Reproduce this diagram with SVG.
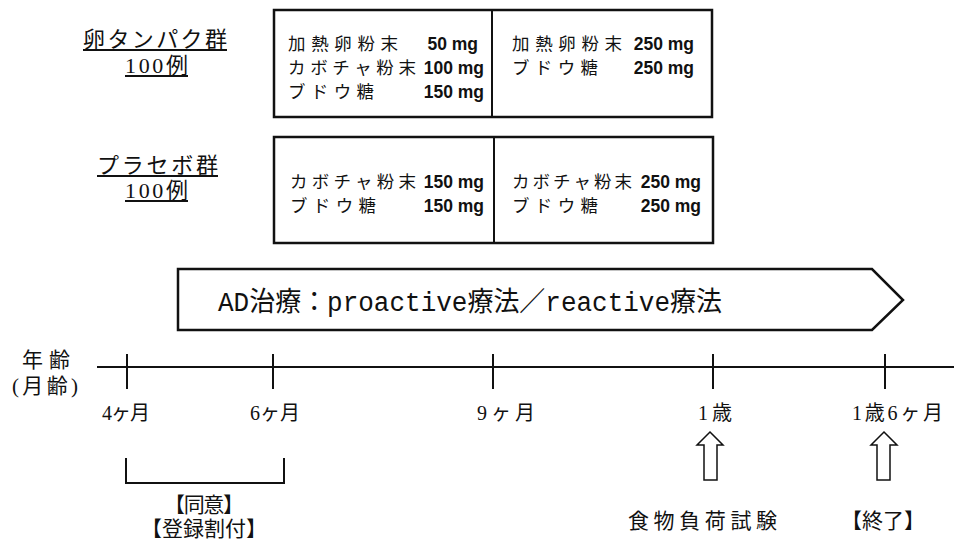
<svg xmlns="http://www.w3.org/2000/svg" width="954" height="542" viewBox="0 0 954 542">
<style>
.jp{font-family:"Liberation Serif","Noto Sans CJK JP",serif;fill:#111;}
.box{fill:#fff;stroke:#111;stroke-width:2.5;}
.ln{stroke:#111;stroke-width:2;fill:none;}
.mg{font-family:"Liberation Sans","Noto Sans CJK JP",sans-serif;font-weight:bold;font-size:17.5px;fill:#111;text-anchor:end;}
.bt{font-family:"Noto Sans CJK JP",sans-serif;font-size:17.5px;fill:#111;}
.lbl{font-size:22px;}
.tk{font-size:20px;}
.big{font-size:21px;}
.arr{fill:#fff;stroke:#111;stroke-width:1.5;}
</style>
<rect width="954" height="542" fill="#fff"/>

<g id="egg-label">
<text class="jp lbl" x="83" y="47" textLength="144" lengthAdjust="spacing">卵タンパク群</text>
<line class="ln" x1="83" y1="50" x2="227" y2="50" stroke-width="1.5"/>
<text class="jp lbl" x="125" y="73" textLength="63" lengthAdjust="spacing">100例</text>
<line class="ln" x1="125" y1="76" x2="188" y2="76" stroke-width="1.5"/>
</g>

<g id="egg-box">
<rect class="box" x="274" y="10" width="438" height="107"/>
<line class="ln" x1="492" y1="10" x2="492" y2="117"/>
<text class="bt" x="288" y="50" textLength="110" lengthAdjust="spacing">加熱卵粉末</text>
<text class="mg" x="478" y="50">50 mg</text>
<text class="bt" x="288" y="74" textLength="128" lengthAdjust="spacing">カボチャ粉末</text>
<text class="mg" x="484" y="74">100 mg</text>
<text class="bt" x="288" y="98" textLength="86" lengthAdjust="spacing">ブドウ糖</text>
<text class="mg" x="484" y="98">150 mg</text>
<text class="bt" x="512" y="50" textLength="110" lengthAdjust="spacing">加熱卵粉末</text>
<text class="mg" x="694" y="50">250 mg</text>
<text class="bt" x="512" y="74" textLength="86" lengthAdjust="spacing">ブドウ糖</text>
<text class="mg" x="694" y="74">250 mg</text>
</g>

<g id="placebo-label">
<text class="jp lbl" x="97" y="173" textLength="121" lengthAdjust="spacing">プラセボ群</text>
<line class="ln" x1="97" y1="176" x2="218" y2="176" stroke-width="1.5"/>
<text class="jp lbl" x="125" y="198" textLength="63" lengthAdjust="spacing">100例</text>
<line class="ln" x1="125" y1="201" x2="188" y2="201" stroke-width="1.5"/>
</g>

<g id="placebo-box">
<rect class="box" x="274" y="137" width="439" height="106"/>
<line class="ln" x1="494" y1="137" x2="494" y2="243"/>
<text class="bt" x="290" y="188" textLength="126" lengthAdjust="spacing">カボチャ粉末</text>
<text class="mg" x="484" y="188">150 mg</text>
<text class="bt" x="290" y="212" textLength="86" lengthAdjust="spacing">ブドウ糖</text>
<text class="mg" x="484" y="212">150 mg</text>
<text class="bt" x="512" y="188" textLength="120" lengthAdjust="spacing">カボチャ粉末</text>
<text class="mg" x="701" y="188">250 mg</text>
<text class="bt" x="512" y="212" textLength="86" lengthAdjust="spacing">ブドウ糖</text>
<text class="mg" x="701" y="212">250 mg</text>
</g>

<g id="ad-treatment">
<polygon class="box" points="178,269 872,269 903,300 872,330 178,330"/>
<text x="218" y="311" font-family="'Liberation Mono','Noto Sans CJK JP',monospace" font-size="27" fill="#111" textLength="504" lengthAdjust="spacingAndGlyphs">AD治療：proactive療法／reactive療法</text>
</g>

<g id="timeline">
<text class="jp" x="22" y="367" font-size="21" textLength="48" lengthAdjust="spacing">年齢</text>
<text class="jp" x="12" y="393" font-size="21" textLength="66" lengthAdjust="spacing">(月齢)</text>
<line class="ln" x1="97" y1="367" x2="954" y2="367"/>
<line class="ln" x1="127" y1="354" x2="127" y2="389"/>
<line class="ln" x1="273" y1="354" x2="273" y2="389"/>
<line class="ln" x1="493" y1="354" x2="493" y2="389"/>
<line class="ln" x1="713" y1="354" x2="713" y2="389"/>
<line class="ln" x1="885" y1="354" x2="885" y2="389"/>
<text class="jp tk" x="102" y="420" textLength="48" lengthAdjust="spacing">4ヶ月</text>
<text class="jp tk" x="250" y="420" textLength="50" lengthAdjust="spacing">6ヶ月</text>
<text class="jp tk" x="477" y="420" textLength="58" lengthAdjust="spacing">9ヶ月</text>
<text class="jp tk" x="698" y="420" textLength="34" lengthAdjust="spacing">1歳</text>
<text class="jp tk" x="852" y="420" textLength="91" lengthAdjust="spacing">1歳6ヶ月</text>
</g>

<g id="consent">
<path class="ln" d="M126 458 V483 H284 V458"/>
<text class="jp big" x="164" y="512" textLength="80" lengthAdjust="spacing">【同意】</text>
<text class="jp big" x="141" y="536" textLength="126" lengthAdjust="spacing">【登録割付】</text>
</g>

<g id="food-challenge">
<polygon class="arr" points="710,432 723,445 717,445 717,480 704,480 704,445 697,445"/>
<text class="jp big" x="628" y="528" textLength="149" lengthAdjust="spacing">食物負荷試験</text>
</g>

<g id="end">
<polygon class="arr" points="884,432 897,445 890,445 890,480 877,480 877,445 871,445"/>
<text class="jp big" x="841" y="528" textLength="84" lengthAdjust="spacing">【終了】</text>
</g>
</svg>
